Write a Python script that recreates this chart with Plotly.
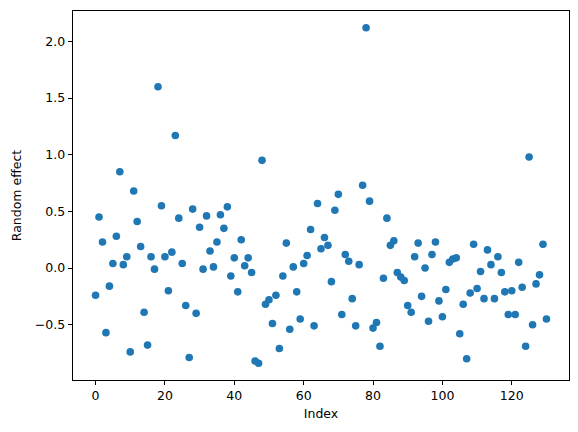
import plotly.graph_objects as go

index = list(range(131))
random_effect = [
    -0.24, 0.45, 0.23, -0.57, -0.16, 0.04, 0.28, 0.85, 0.03, 0.10,
    -0.74, 0.68, 0.41, 0.19, -0.39, -0.68, 0.10, -0.01, 1.60, 0.55,
    0.10, -0.20, 0.14, 1.17, 0.44, 0.04, -0.33, -0.79, 0.52, -0.40,
    0.36, -0.01, 0.46, 0.15, 0.01, 0.23, 0.47, 0.35, 0.54, -0.07,
    0.09, -0.21, 0.25, 0.02, 0.09, -0.04, -0.82, -0.84, 0.95, -0.32,
    -0.28, -0.49, -0.24, -0.71, -0.07, 0.22, -0.54, 0.01, -0.21, -0.45,
    0.04, 0.11, 0.34, -0.51, 0.57, 0.17, 0.27, 0.20, -0.12, 0.51,
    0.65, -0.41, 0.12, 0.06, -0.27, -0.51, 0.03, 0.73, 2.12, 0.59,
    -0.53, -0.48, -0.69, -0.09, 0.44, 0.20, 0.24, -0.04, -0.08, -0.11,
    -0.33, -0.39, 0.10, 0.22, -0.25, 0.00, -0.47, 0.12, 0.23, -0.29,
    -0.43, -0.19, 0.05, 0.08, 0.09, -0.58, -0.32, -0.80, -0.22, 0.21,
    -0.18, -0.03, -0.27, 0.16, 0.03, -0.27, 0.10, -0.04, -0.21, -0.41,
    -0.20, -0.41, 0.05, -0.17, -0.69, 0.98, -0.50, -0.14, -0.06, 0.21,
    -0.45,
]
x_ticks = [0, 20, 40, 60, 80, 100, 120]
y_ticks = [-0.5, 0.0, 0.5, 1.0, 1.5, 2.0]
y_tick_labels = ["\u22120.5", "0.0", "0.5", "1.0", "1.5", "2.0"]

fig = go.Figure(
    go.Scatter(
        x=index,
        y=random_effect,
        mode="markers",
        marker=dict(color="#1f77b4", size=7.6, line=dict(width=0)),
    )
)

xmin, xmax = min(index), max(index)
ymin, ymax = min(random_effect), max(random_effect)
xpad = (xmax - xmin) * 0.05
ypad = (ymax - ymin) * 0.05

axis_common = dict(
    showgrid=False,
    zeroline=False,
    showline=True,
    linecolor="black",
    linewidth=1,
    mirror=True,
    ticks="outside",
    ticklen=4.4,
    tickwidth=1,
    tickcolor="black",
    automargin=False,
    tickfont=dict(family="DejaVu Sans", size=12.5, color="black"),
)

# The page body has an 8px margin, so the figure is sized to fit the
# 578x432 window with that offset taken into account.
fig.update_layout(
    width=570,
    height=424,
    margin=dict(l=65, r=9, t=3, b=52),
    plot_bgcolor="white",
    paper_bgcolor="white",
    showlegend=False,
    font=dict(family="DejaVu Sans", size=12.5, color="black"),
    xaxis=dict(
        range=[xmin - xpad, xmax + xpad],
        tickvals=x_ticks,
        title=dict(text="Index", standoff=6, font=dict(size=12.5)),
        **axis_common,
    ),
    yaxis=dict(
        range=[ymin - ypad, ymax + ypad],
        tickvals=y_ticks,
        ticktext=y_tick_labels,
        title=dict(text="Random effect", standoff=10, font=dict(size=12.5)),
        **axis_common,
    ),
)

fig.write_html("out.html")
